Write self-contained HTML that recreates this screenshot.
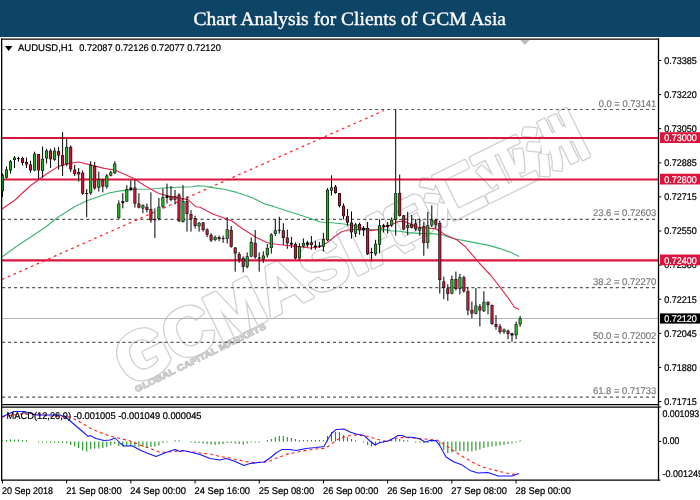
<!DOCTYPE html>
<html lang="en"><head><meta charset="utf-8"><title>Chart Analysis for Clients of GCM Asia</title>
<style>
html,body{margin:0;padding:0;background:#fff;}
body{width:700px;height:500px;overflow:hidden;}
svg{display:block;}
.ax{font-family:"Liberation Sans",sans-serif;font-size:9.7px;fill:#000;stroke:#000;stroke-width:.22px;text-rendering:geometricPrecision;}
.fib{font-family:"Liberation Sans",sans-serif;font-size:9.7px;fill:#777;stroke:#777;stroke-width:.15px;text-rendering:geometricPrecision;}
.ttl{font-family:"Liberation Serif",serif;font-size:19px;fill:#fff;stroke:#fff;stroke-width:.35px;text-rendering:geometricPrecision;}
.wm{font-family:"Liberation Sans","Noto Sans CJK SC",sans-serif;font-weight:bold;stroke-linejoin:round;}
.wo{fill:#cfcfcf;stroke:#cfcfcf;}
.wi{fill:#fff;stroke:#fff;}
</style></head><body>
<svg width="700" height="500" viewBox="0 0 700 500">
<rect x="0" y="0" width="700" height="500" fill="#fff"/>
<rect x="0" y="0" width="700" height="37" fill="#0e4465"/>
<text class="ttl" x="193.5" y="24.9" textLength="312.5" lengthAdjust="spacingAndGlyphs">Chart Analysis for Clients of GCM Asia</text>
<g transform="translate(129.5 387) rotate(-26.2)">
<text class="wm wo" x="0" y="0" font-size="68" stroke-width="4.6" textLength="318" lengthAdjust="spacingAndGlyphs">GCMASIA</text>
<text class="wm wo" x="346" y="-9.5" font-size="57" stroke-width="4.6" textLength="172" lengthAdjust="spacingAndGlyphs">汇亚洲</text>
<text class="wm wi" x="0" y="0" font-size="68" stroke-width="2.0" textLength="318" lengthAdjust="spacingAndGlyphs">GCMASIA</text>
<text class="wm wi" x="346" y="-9.5" font-size="57" stroke-width="2.0" textLength="172" lengthAdjust="spacingAndGlyphs">汇亚洲</text>
<rect x="303" y="-48" width="43" height="43" rx="9" fill="#fff" stroke="#cfcfcf" stroke-width="1.3"/>
<path d="M313 -39H337V-32H321V-29.5H335V-23H321V-20.5H337V-13.5H313Z" fill="#fff" stroke="#cfcfcf" stroke-width="1.2" stroke-linejoin="round"/>
<text class="wm" x="4" y="8" font-size="8.6" textLength="145" lengthAdjust="spacingAndGlyphs" style="fill:#f2f2f2;stroke:#c2c2c2;stroke-width:.9px">GLOBAL CAPITAL MARKETS</text>
</g>
<line x1="2" y1="109.5" x2="656" y2="109.5" stroke="#5a5a5a" stroke-width="1.2" stroke-dasharray="3.1 2.918"/>
<line x1="2" y1="219.3" x2="656" y2="219.3" stroke="#5a5a5a" stroke-width="1.2" stroke-dasharray="3.1 2.918"/>
<line x1="2" y1="287.7" x2="656" y2="287.7" stroke="#5a5a5a" stroke-width="1.2" stroke-dasharray="3.1 2.918"/>
<line x1="2" y1="342.3" x2="656" y2="342.3" stroke="#5a5a5a" stroke-width="1.2" stroke-dasharray="3.1 2.918"/>
<line x1="2" y1="397.2" x2="656" y2="397.2" stroke="#5a5a5a" stroke-width="1.2" stroke-dasharray="3.1 2.918"/>
<line x1="2" y1="318.5" x2="658" y2="318.5" stroke="#b4b4b4" stroke-width="1"/>
<line x1="2" y1="279.5" x2="384" y2="110.5" stroke="#ff2a2a" stroke-width="1.3" stroke-dasharray="2.7 3.6"/>
<polyline points="2.0,257.0 15.0,247.5 30.0,237.5 45.0,227.5 57.5,217.5 75.0,206.5 87.5,200.6 97.6,197.0 108.8,193.0 120.0,190.9 136.0,189.2 152.0,189.0 163.2,188.0 177.6,187.2 192.0,186.8 197.6,185.8 204.0,186.0 214.4,187.9 224.0,189.2 236.8,192.4 251.2,197.2 260.8,202.0 266.0,204.4 273.6,206.4 288.0,211.2 300.8,215.3 312.0,219.0 320.0,222.0 332.0,222.8 344.0,224.0 353.6,225.6 361.6,227.8 372.0,229.8 384.0,229.4 390.0,230.8 400.0,231.2 408.0,232.6 419.2,233.4 432.0,233.6 442.0,234.7 452.0,238.2 468.0,241.4 488.8,245.4 500.0,248.6 511.2,252.6 519.2,256.6" fill="none" stroke="#3cb371" stroke-width="1.1" stroke-linejoin="round"/>
<polyline points="2.0,209.0 15.0,200.0 30.0,186.0 38.4,180.0 45.0,175.0 58.4,166.4 70.4,163.2 78.4,162.0 89.6,164.6 104.0,168.4 114.4,170.0 125.0,174.5 134.4,178.8 144.0,185.2 158.4,193.2 169.6,196.4 177.6,197.6 188.0,199.6 196.0,206.8 200.0,207.2 212.8,214.0 224.0,218.0 232.0,221.0 243.2,229.2 256.0,237.2 265.6,242.0 270.4,243.5 282.4,245.0 296.0,246.4 310.4,248.0 320.0,246.7 328.0,242.0 334.4,236.8 341.6,231.8 348.0,230.0 364.0,229.0 372.0,230.6 380.0,229.0 384.0,227.0 392.0,224.6 398.4,221.4 404.8,221.4 411.2,224.6 416.0,227.0 424.0,227.8 435.0,228.6 442.0,232.6 445.6,235.0 456.8,239.8 464.8,246.2 474.4,257.4 479.2,263.0 490.4,275.0 500.0,287.1 508.0,297.6 514.4,307.2 519.2,309.6" fill="none" stroke="#e0284f" stroke-width="1.1" stroke-linejoin="round"/>
<line x1="2" y1="138" x2="659" y2="138" stroke="#dc143c" stroke-width="2.2"/>
<line x1="2" y1="179.5" x2="659" y2="179.5" stroke="#dc143c" stroke-width="2.2"/>
<line x1="2" y1="260.3" x2="659" y2="260.3" stroke="#dc143c" stroke-width="2.2"/>
<path d="M2.5 173.6V197.0M6.5 166.4V178.4M10.5 160.0V173.6M14.5 156.0V168.0M18.5 156.8V161.6M22.5 156.8V165.6M26.5 157.6V168.0M30.5 160.8V172.8M34.6 151.7V171.2M38.6 154.0V179.2M42.6 146.4V177.6M46.6 148.8V163.5M50.6 148.8V168.0M54.6 147.5V160.8M58.6 146.9V169.6M62.6 132.0V176.0M66.7 138.4V166.4M70.7 145.3V172.0M74.7 164.8V176.0M78.7 168.0V181.6M82.7 170.4V194.9M86.7 189.0V217.0M90.7 161.2V194.8M94.7 162.0V189.7M98.8 171.6V191.6M102.8 178.8V192.4M106.8 174.0V188.7M110.8 170.8V176.4M114.8 161.2V174.0M118.8 200.4V218.8M122.8 193.2V208.4M126.8 185.2V202.0M130.8 180.4V190.8M134.9 179.6V207.6M138.9 193.2V208.4M142.9 204.4V213.2M146.9 203.6V212.4M150.9 192.4V222.8M154.9 208.4V238.0M158.9 198.0V220.4M162.9 188.4V208.4M167.0 183.6V203.6M171.0 186.0V201.2M175.0 190.0V204.4M179.0 193.2V222.0M183.0 185.2V222.5M187.0 196.4V231.6M191.0 210.0V231.6M195.1 215.6V228.4M199.1 222.0V231.6M203.1 222.0V231.6M207.1 228.4V237.2M211.1 233.2V242.0M215.1 235.6V241.2M219.1 235.6V241.2M223.1 235.6V242.8M227.2 217.2V243.6M231.2 226.0V247.6M235.2 247.0V271.6M239.2 252.0V262.8M243.2 256.4V272.4M247.2 252.4V268.4M251.2 237.5V257.2M255.2 230.0V258.8M259.2 252.4V271.6M263.3 251.3V262.8M267.3 244.0V257.6M271.3 233.3V253.6M275.3 219.2V236.0M279.3 216.8V233.6M283.3 223.2V244.8M287.3 229.6V248.8M291.4 236.8V248.0M295.4 242.4V259.2M299.4 243.2V259.5M303.4 238.4V247.2M307.4 240.8V247.2M311.4 236.0V249.6M315.4 240.8V249.6M319.4 242.0V248.0M323.4 232.8V251.5M327.5 188.2V241.0M331.5 175.4V195.4M335.5 185.0V193.8M339.5 193.0V207.4M343.5 203.4V219.4M347.5 209.0V225.8M351.5 211.4V238.6M355.6 222.8V237.2M359.6 222.5V234.8M363.6 226.0V236.0M367.6 222.0V255.0M371.6 247.8V261.4M375.6 239.8V255.8M379.6 219.3V253.4M383.6 223.8V232.4M387.7 222.0V233.6M391.7 217.4V227.0M395.7 109.6V235.8M399.7 174.6V216.6M403.7 215.0V230.2M407.7 211.8V235.0M411.7 215.0V228.6M415.7 219.0V231.0M419.8 219.0V235.8M423.8 222.2V255.8M427.8 211.8V248.6M431.8 205.4V227.0M435.8 219.0V228.6M439.8 220.6V293.6M443.8 276.7V299.2M447.8 284.3V300.8M451.9 275.5V294.3M455.9 271.6V290.4M459.9 273.9V294.4M463.9 275.7V292.7M467.9 287.2V315.2M471.9 301.6V318.4M475.9 288.0V314.4M479.9 304.0V326.4M483.9 291.2V312.0M488.0 301.3V314.4M492.0 304.5V324.8M496.0 315.2V329.6M500.0 324.0V333.9M504.0 328.5V333.9M508.0 329.6V339.2M512.0 332.8V341.6M516.1 321.6V339.2M520.1 316.0V326.9" stroke="#000" stroke-width="1" fill="none"/>
<g fill="#000"><rect x="1.0" y="175.2" width="3" height="16.0"/><rect x="5.0" y="169.6" width="3" height="8.0"/><rect x="9.0" y="161.3" width="3" height="9.1"/><rect x="13.0" y="157.6" width="3" height="2.4"/><rect x="33.1" y="153.6" width="3" height="16.8"/><rect x="41.1" y="158.9" width="3" height="12.0"/><rect x="45.1" y="150.7" width="3" height="7.7"/><rect x="53.1" y="150.7" width="3" height="9.0"/><rect x="65.2" y="146.9" width="3" height="17.1"/><rect x="89.2" y="165.2" width="3" height="28.0"/><rect x="97.3" y="179.6" width="3" height="8.0"/><rect x="105.3" y="175.6" width="3" height="11.2"/><rect x="109.3" y="172.4" width="3" height="3.2"/><rect x="113.3" y="163.6" width="3" height="9.6"/><rect x="117.3" y="203.6" width="3" height="14.4"/><rect x="125.3" y="189.2" width="3" height="12.3"/><rect x="141.4" y="205.2" width="3" height="3.2"/><rect x="157.4" y="206.8" width="3" height="12.0"/><rect x="161.4" y="197.2" width="3" height="9.6"/><rect x="181.5" y="201.2" width="3" height="20.8"/><rect x="197.6" y="222.8" width="3" height="3.5"/><rect x="213.6" y="236.9" width="3" height="3.1"/><rect x="225.7" y="229.5" width="3" height="9.3"/><rect x="245.7" y="256.4" width="3" height="10.4"/><rect x="249.7" y="242.0" width="3" height="14.4"/><rect x="261.8" y="255.6" width="3" height="3.7"/><rect x="265.8" y="248.0" width="3" height="7.2"/><rect x="269.8" y="234.4" width="3" height="13.6"/><rect x="273.8" y="230.4" width="3" height="3.5"/><rect x="297.9" y="246.4" width="3" height="12.0"/><rect x="301.9" y="242.9" width="3" height="3.5"/><rect x="321.9" y="239.2" width="3" height="7.5"/><rect x="326.0" y="189.8" width="3" height="50.4"/><rect x="330.0" y="187.4" width="3" height="3.2"/><rect x="354.1" y="224.4" width="3" height="9.2"/><rect x="374.1" y="243.8" width="3" height="10.4"/><rect x="378.1" y="225.4" width="3" height="19.2"/><rect x="390.2" y="219.8" width="3" height="5.6"/><rect x="394.2" y="193.2" width="3" height="26.6"/><rect x="406.2" y="225.0" width="3" height="2.8"/><rect x="418.2" y="227.8" width="3" height="2.7"/><rect x="426.3" y="225.4" width="3" height="17.6"/><rect x="430.3" y="219.8" width="3" height="5.6"/><rect x="450.4" y="279.1" width="3" height="14.4"/><rect x="458.4" y="277.3" width="3" height="11.5"/><rect x="474.4" y="305.6" width="3" height="8.0"/><rect x="482.4" y="301.9" width="3" height="9.3"/><rect x="502.5" y="329.6" width="3" height="2.4"/><rect x="514.6" y="324.3" width="3" height="10.9"/><rect x="518.6" y="318.4" width="3" height="5.9"/><rect x="21.0" y="158.0" width="3" height="4.9"/><rect x="25.0" y="162.0" width="3" height="2.5"/><rect x="29.0" y="164.5" width="3" height="5.9"/><rect x="37.1" y="154.0" width="3" height="16.4"/><rect x="49.1" y="150.7" width="3" height="8.5"/><rect x="57.1" y="151.2" width="3" height="4.3"/><rect x="61.1" y="155.2" width="3" height="10.4"/><rect x="69.2" y="146.9" width="3" height="22.4"/><rect x="73.2" y="169.6" width="3" height="4.4"/><rect x="77.2" y="172.0" width="3" height="2.4"/><rect x="81.2" y="172.8" width="3" height="20.8"/><rect x="93.2" y="166.0" width="3" height="22.4"/><rect x="101.3" y="179.6" width="3" height="6.9"/><rect x="133.4" y="187.6" width="3" height="16.0"/><rect x="137.4" y="203.6" width="3" height="4.0"/><rect x="145.4" y="206.8" width="3" height="3.2"/><rect x="149.4" y="209.2" width="3" height="11.2"/><rect x="169.5" y="196.4" width="3" height="3.6"/><rect x="173.5" y="196.4" width="3" height="3.2"/><rect x="177.5" y="194.8" width="3" height="26.4"/><rect x="185.5" y="201.2" width="3" height="12.8"/><rect x="189.5" y="214.0" width="3" height="4.8"/><rect x="193.6" y="218.0" width="3" height="8.0"/><rect x="201.6" y="222.5" width="3" height="7.5"/><rect x="205.6" y="229.5" width="3" height="5.3"/><rect x="209.6" y="234.8" width="3" height="5.6"/><rect x="217.6" y="237.2" width="3" height="1.9"/><rect x="229.7" y="230.0" width="3" height="16.8"/><rect x="233.7" y="247.6" width="3" height="5.9"/><rect x="237.7" y="254.0" width="3" height="5.6"/><rect x="241.7" y="258.0" width="3" height="8.8"/><rect x="253.7" y="242.8" width="3" height="14.4"/><rect x="281.8" y="230.4" width="3" height="7.6"/><rect x="285.8" y="237.6" width="3" height="5.6"/><rect x="293.9" y="244.0" width="3" height="14.4"/><rect x="309.9" y="242.4" width="3" height="2.7"/><rect x="334.0" y="186.6" width="3" height="6.4"/><rect x="338.0" y="193.0" width="3" height="12.8"/><rect x="342.0" y="205.8" width="3" height="10.4"/><rect x="346.0" y="216.2" width="3" height="6.4"/><rect x="350.0" y="222.6" width="3" height="9.6"/><rect x="358.1" y="224.1" width="3" height="6.3"/><rect x="366.1" y="228.0" width="3" height="26.2"/><rect x="398.2" y="192.9" width="3" height="22.9"/><rect x="402.2" y="215.5" width="3" height="13.9"/><rect x="410.2" y="223.8" width="3" height="4.0"/><rect x="414.2" y="223.5" width="3" height="5.9"/><rect x="422.3" y="226.2" width="3" height="16.8"/><rect x="434.3" y="219.8" width="3" height="4.8"/><rect x="438.3" y="223.0" width="3" height="57.0"/><rect x="442.3" y="281.5" width="3" height="6.5"/><rect x="446.3" y="288.3" width="3" height="5.6"/><rect x="454.4" y="279.1" width="3" height="10.0"/><rect x="462.4" y="277.3" width="3" height="14.0"/><rect x="466.4" y="291.2" width="3" height="19.2"/><rect x="470.4" y="309.9" width="3" height="3.7"/><rect x="478.4" y="306.4" width="3" height="4.0"/><rect x="486.5" y="301.9" width="3" height="3.2"/><rect x="490.5" y="305.1" width="3" height="18.9"/><rect x="494.5" y="324.0" width="3" height="2.9"/><rect x="498.5" y="326.4" width="3" height="5.6"/><rect x="506.5" y="330.7" width="3" height="3.2"/><rect x="17.0" y="158.2" width="3" height="0.9"/><rect x="85.2" y="193.0" width="3" height="0.9"/><rect x="121.3" y="201.2" width="3" height="1.9"/><rect x="129.3" y="187.6" width="3" height="2.4"/><rect x="153.4" y="219.2" width="3" height="0.9"/><rect x="165.5" y="195.6" width="3" height="2.4"/><rect x="221.6" y="238.2" width="3" height="0.9"/><rect x="257.8" y="257.5" width="3" height="1.0"/><rect x="277.8" y="229.8" width="3" height="0.9"/><rect x="289.9" y="242.9" width="3" height="1.6"/><rect x="305.9" y="242.4" width="3" height="2.4"/><rect x="313.9" y="245.6" width="3" height="1.6"/><rect x="317.9" y="245.6" width="3" height="1.1"/><rect x="362.1" y="228.0" width="3" height="2.5"/><rect x="370.1" y="252.0" width="3" height="1.0"/><rect x="382.1" y="225.2" width="3" height="1.6"/><rect x="386.2" y="225.0" width="3" height="1.7"/><rect x="510.5" y="333.3" width="3" height="2.2"/></g>
<g fill="#25b025"><rect x="1.6" y="175.7" width="1.8" height="15.0"/><rect x="5.6" y="170.1" width="1.8" height="7.0"/><rect x="9.6" y="161.8" width="1.8" height="8.1"/><rect x="13.6" y="158.1" width="1.8" height="1.4"/><rect x="33.7" y="154.1" width="1.8" height="15.8"/><rect x="41.7" y="159.4" width="1.8" height="11.0"/><rect x="45.7" y="151.2" width="1.8" height="6.7"/><rect x="53.7" y="151.2" width="1.8" height="8.0"/><rect x="65.8" y="147.4" width="1.8" height="16.1"/><rect x="89.8" y="165.7" width="1.8" height="27.0"/><rect x="97.9" y="180.1" width="1.8" height="7.0"/><rect x="105.9" y="176.1" width="1.8" height="10.2"/><rect x="109.9" y="172.9" width="1.8" height="2.2"/><rect x="113.9" y="164.1" width="1.8" height="8.6"/><rect x="117.9" y="204.1" width="1.8" height="13.4"/><rect x="125.9" y="189.7" width="1.8" height="11.3"/><rect x="142.0" y="205.7" width="1.8" height="2.2"/><rect x="158.0" y="207.3" width="1.8" height="11.0"/><rect x="162.0" y="197.7" width="1.8" height="8.6"/><rect x="182.1" y="201.7" width="1.8" height="19.8"/><rect x="198.2" y="223.3" width="1.8" height="2.5"/><rect x="214.2" y="237.4" width="1.8" height="2.1"/><rect x="226.2" y="230.0" width="1.8" height="8.3"/><rect x="246.3" y="256.9" width="1.8" height="9.4"/><rect x="250.3" y="242.5" width="1.8" height="13.4"/><rect x="262.4" y="256.1" width="1.8" height="2.7"/><rect x="266.4" y="248.5" width="1.8" height="6.2"/><rect x="270.4" y="234.9" width="1.8" height="12.6"/><rect x="274.4" y="230.9" width="1.8" height="2.5"/><rect x="298.5" y="246.9" width="1.8" height="11.0"/><rect x="302.5" y="243.4" width="1.8" height="2.5"/><rect x="322.6" y="239.7" width="1.8" height="6.5"/><rect x="326.6" y="190.3" width="1.8" height="49.4"/><rect x="330.6" y="187.9" width="1.8" height="2.2"/><rect x="354.7" y="224.9" width="1.8" height="8.2"/><rect x="374.7" y="244.3" width="1.8" height="9.4"/><rect x="378.7" y="225.9" width="1.8" height="18.2"/><rect x="390.8" y="220.3" width="1.8" height="4.6"/><rect x="394.8" y="193.7" width="1.8" height="25.6"/><rect x="406.8" y="225.5" width="1.8" height="1.8"/><rect x="418.9" y="228.3" width="1.8" height="1.7"/><rect x="426.9" y="225.9" width="1.8" height="16.6"/><rect x="430.9" y="220.3" width="1.8" height="4.6"/><rect x="451.0" y="279.6" width="1.8" height="13.4"/><rect x="459.0" y="277.8" width="1.8" height="10.5"/><rect x="475.0" y="306.1" width="1.8" height="7.0"/><rect x="483.1" y="302.4" width="1.8" height="8.3"/><rect x="503.1" y="330.1" width="1.8" height="1.4"/><rect x="515.2" y="324.8" width="1.8" height="9.9"/><rect x="519.2" y="318.9" width="1.8" height="4.9"/></g>
<g fill="#c41838"><rect x="21.6" y="158.5" width="1.8" height="3.9"/><rect x="25.6" y="162.5" width="1.8" height="1.5"/><rect x="29.6" y="165.0" width="1.8" height="4.9"/><rect x="37.7" y="154.5" width="1.8" height="15.4"/><rect x="49.7" y="151.2" width="1.8" height="7.5"/><rect x="57.7" y="151.7" width="1.8" height="3.3"/><rect x="61.7" y="155.7" width="1.8" height="9.4"/><rect x="69.8" y="147.4" width="1.8" height="21.4"/><rect x="73.8" y="170.1" width="1.8" height="3.4"/><rect x="77.8" y="172.5" width="1.8" height="1.4"/><rect x="81.8" y="173.3" width="1.8" height="19.8"/><rect x="93.8" y="166.5" width="1.8" height="21.4"/><rect x="101.9" y="180.1" width="1.8" height="5.9"/><rect x="134.0" y="188.1" width="1.8" height="15.0"/><rect x="138.0" y="204.1" width="1.8" height="3.0"/><rect x="146.0" y="207.3" width="1.8" height="2.2"/><rect x="150.0" y="209.7" width="1.8" height="10.2"/><rect x="170.1" y="196.9" width="1.8" height="2.6"/><rect x="174.1" y="196.9" width="1.8" height="2.2"/><rect x="178.1" y="195.3" width="1.8" height="25.4"/><rect x="186.1" y="201.7" width="1.8" height="11.8"/><rect x="190.1" y="214.5" width="1.8" height="3.8"/><rect x="194.2" y="218.5" width="1.8" height="7.0"/><rect x="202.2" y="223.0" width="1.8" height="6.5"/><rect x="206.2" y="230.0" width="1.8" height="4.3"/><rect x="210.2" y="235.3" width="1.8" height="4.6"/><rect x="218.2" y="237.7" width="1.8" height="0.9"/><rect x="230.3" y="230.5" width="1.8" height="15.8"/><rect x="234.3" y="248.1" width="1.8" height="4.9"/><rect x="238.3" y="254.5" width="1.8" height="4.6"/><rect x="242.3" y="258.5" width="1.8" height="7.8"/><rect x="254.3" y="243.3" width="1.8" height="13.4"/><rect x="282.4" y="230.9" width="1.8" height="6.6"/><rect x="286.4" y="238.1" width="1.8" height="4.6"/><rect x="294.5" y="244.5" width="1.8" height="13.4"/><rect x="310.5" y="242.9" width="1.8" height="1.7"/><rect x="334.6" y="187.1" width="1.8" height="5.4"/><rect x="338.6" y="193.5" width="1.8" height="11.8"/><rect x="342.6" y="206.3" width="1.8" height="9.4"/><rect x="346.6" y="216.7" width="1.8" height="5.4"/><rect x="350.6" y="223.1" width="1.8" height="8.6"/><rect x="358.7" y="224.6" width="1.8" height="5.3"/><rect x="366.7" y="228.5" width="1.8" height="25.2"/><rect x="398.8" y="193.4" width="1.8" height="21.9"/><rect x="402.8" y="216.0" width="1.8" height="12.9"/><rect x="410.8" y="224.3" width="1.8" height="3.0"/><rect x="414.8" y="224.0" width="1.8" height="4.9"/><rect x="422.9" y="226.7" width="1.8" height="15.8"/><rect x="434.9" y="220.3" width="1.8" height="3.8"/><rect x="438.9" y="223.5" width="1.8" height="56.0"/><rect x="442.9" y="282.0" width="1.8" height="5.5"/><rect x="446.9" y="288.8" width="1.8" height="4.6"/><rect x="455.0" y="279.6" width="1.8" height="9.0"/><rect x="463.0" y="277.8" width="1.8" height="13.0"/><rect x="467.0" y="291.7" width="1.8" height="18.2"/><rect x="471.0" y="310.4" width="1.8" height="2.7"/><rect x="479.0" y="306.9" width="1.8" height="3.0"/><rect x="487.1" y="302.4" width="1.8" height="2.2"/><rect x="491.1" y="305.6" width="1.8" height="17.9"/><rect x="495.1" y="324.5" width="1.8" height="1.9"/><rect x="499.1" y="326.9" width="1.8" height="4.6"/><rect x="507.1" y="331.2" width="1.8" height="2.2"/></g>
<path d="M1 39.2H659.1M1 404.5H659.1M1 407H659.1M1 480.2H660.3" stroke="#000" stroke-width="1.25" fill="none"/>
<path d="M1.65 38.6V480.8M658.5 38.6V480.8" stroke="#000" stroke-width="1.3" fill="none"/>
<path d="M2.5 441.4V440.2M6.5 441.4V440.0M10.5 441.4V439.4M14.5 441.4V439.4M18.5 441.4V439.4M22.5 441.4V440.0M26.5 441.4V440.2M38.6 441.4V442.6M42.6 441.4V442.6M46.6 441.4V442.6M50.6 441.4V442.6M54.6 441.4V442.8M58.6 441.4V442.8M62.6 441.4V443.0M66.7 441.4V443.2M70.7 441.4V445.0M74.7 441.4V446.4M78.7 441.4V448.0M82.7 441.4V450.4M86.7 441.4V451.4M90.7 441.4V449.0M94.7 441.4V448.6M98.8 441.4V448.6M102.8 441.4V448.0M106.8 441.4V447.0M110.8 441.4V445.6M114.8 441.4V444.0M118.8 441.4V446.0M122.8 441.4V446.4M126.8 441.4V446.0M130.8 441.4V445.6M134.9 441.4V446.4M138.9 441.4V447.0M142.9 441.4V447.0M146.9 441.4V447.4M150.9 441.4V447.0M154.9 441.4V446.4M158.9 441.4V445.6M162.9 441.4V443.0M167.0 441.4V442.6M175.0 441.4V440.2M179.0 441.4V440.2M191.0 441.4V442.6M195.1 441.4V443.0M199.1 441.4V443.0M203.1 441.4V443.6M207.1 441.4V444.0M211.1 441.4V444.4M215.1 441.4V445.0M219.1 441.4V444.4M223.1 441.4V444.0M227.2 441.4V443.0M231.2 441.4V443.0M235.2 441.4V443.6M239.2 441.4V444.0M243.2 441.4V444.4M247.2 441.4V443.6M251.2 441.4V442.6M255.2 441.4V442.6M259.2 441.4V442.6M267.3 441.4V440.0M271.3 441.4V439.0M275.3 441.4V437.0M279.3 441.4V436.0M283.3 441.4V436.0M287.3 441.4V437.0M291.4 441.4V438.0M295.4 441.4V439.0M299.4 441.4V440.0M303.4 441.4V440.0M307.4 441.4V440.0M311.4 441.4V440.0M315.4 441.4V440.0M319.4 441.4V440.0M323.4 441.4V440.0M327.5 441.4V436.0M331.5 441.4V432.0M335.5 441.4V432.0M339.5 441.4V432.0M343.5 441.4V435.0M347.5 441.4V437.0M351.5 441.4V439.0M355.6 441.4V440.2M363.6 441.4V442.6M367.6 441.4V445.0M371.6 441.4V446.4M375.6 441.4V445.6M379.6 441.4V443.6M383.6 441.4V442.6M387.7 441.4V440.2M391.7 441.4V439.0M395.7 441.4V439.0M399.7 441.4V439.0M403.7 441.4V440.0M407.7 441.4V440.2M415.7 441.4V442.6M419.8 441.4V442.6M423.8 441.4V443.0M427.8 441.4V443.0M431.8 441.4V440.2M435.8 441.4V440.2M439.8 441.4V445.6M443.8 441.4V450.0M447.8 441.4V453.0M451.9 441.4V452.4M455.9 441.4V451.6M459.9 441.4V451.0M463.9 441.4V451.0M467.9 441.4V451.4M471.9 441.4V451.4M475.9 441.4V450.4M479.9 441.4V449.4M483.9 441.4V448.0M488.0 441.4V447.0M492.0 441.4V446.4M496.0 441.4V446.0M500.0 441.4V445.6M504.0 441.4V445.0M508.0 441.4V444.0M512.0 441.4V443.4M516.1 441.4V442.6M520.1 441.4V440.2" stroke="#1a931a" stroke-width="1.1" fill="none"/>
<polyline points="2.0,417.0 10.0,415.5 20.0,414.0 36.0,414.5 50.0,416.0 70.0,417.0 80.0,422.0 90.0,428.0 100.0,432.4 110.0,436.0 120.0,438.4 130.0,441.0 140.0,445.0 150.0,448.4 160.0,452.4 170.0,451.6 180.0,451.0 190.0,451.6 200.0,453.0 210.0,454.0 220.0,456.4 230.0,458.0 238.0,460.0 246.0,461.6 254.0,462.6 262.0,462.2 268.0,462.0 274.0,459.0 280.0,457.0 286.0,454.4 296.0,452.4 306.0,450.4 316.0,449.0 324.0,448.4 329.0,446.0 334.0,442.0 340.0,438.0 346.0,436.4 354.0,435.0 364.0,435.6 370.0,437.0 376.0,439.0 384.0,441.0 392.0,440.0 398.0,437.6 410.0,437.6 420.0,438.6 430.0,439.4 437.0,440.0 442.0,443.0 448.0,447.0 454.0,451.0 460.0,455.0 466.0,458.4 472.0,462.0 478.0,465.0 486.0,468.0 494.0,470.0 502.0,472.0 510.0,474.0 518.0,474.4" fill="none" stroke="#ff1e1e" stroke-width="1.1" stroke-dasharray="3 3"/>
<polyline points="2.0,417.0 8.0,414.0 14.0,411.4 24.0,411.4 30.0,413.0 36.0,415.0 60.0,415.0 64.0,416.5 68.0,419.0 76.0,426.0 82.0,431.0 88.0,436.4 90.0,435.6 96.0,438.4 104.0,440.6 110.0,440.0 115.0,438.0 120.0,443.0 124.0,446.0 132.0,445.8 142.0,451.0 156.0,456.4 166.0,452.4 175.0,449.6 180.0,451.6 183.0,450.6 190.0,452.0 200.0,454.4 210.0,458.4 220.0,460.0 226.0,458.6 234.0,461.0 244.0,465.4 250.0,463.6 258.0,462.6 264.0,462.0 270.0,458.0 276.0,453.0 282.0,449.4 290.0,449.6 296.0,450.4 306.0,448.6 316.0,447.6 324.0,446.4 328.0,439.0 332.0,433.0 336.0,429.6 344.0,429.0 350.0,432.0 356.0,434.0 364.0,435.6 370.0,441.0 375.0,445.0 380.0,442.4 388.0,441.0 392.0,439.0 394.0,438.0 398.0,435.4 402.0,435.6 406.0,437.0 414.0,437.6 420.0,439.0 425.0,442.0 430.0,440.6 436.0,440.6 440.0,446.0 446.0,457.0 454.0,462.0 461.0,464.4 470.0,470.4 478.0,473.0 488.0,472.4 498.0,476.0 512.0,476.0 519.0,473.4" fill="none" stroke="#1414ff" stroke-width="1.05" stroke-linejoin="round"/>
<path d="M520.3 40H529.5L524.9 45Z" fill="#bcbcbc"/>
<path d="M5 46H12.4L8.7 51Z" fill="#000"/>
<text class="ax" x="18" y="51.3" textLength="55" lengthAdjust="spacingAndGlyphs">AUDUSD,H1</text>
<text class="ax" x="79.2" y="51.3" textLength="141.6" lengthAdjust="spacingAndGlyphs">0.72087 0.72126 0.72077 0.72120</text>
<text class="ax" x="6.5" y="419.3" textLength="195" lengthAdjust="spacingAndGlyphs">MACD(12,26,9) -0.001005 -0.001049 0.000045</text>
<line x1="659" y1="60.5" x2="661.3" y2="60.5" stroke="#000" stroke-width="1"/>
<text class="ax" x="664.3" y="63.8" textLength="32.6" lengthAdjust="spacingAndGlyphs">0.73385</text>
<line x1="659" y1="94.6" x2="661.3" y2="94.6" stroke="#000" stroke-width="1"/>
<text class="ax" x="664.3" y="97.9" textLength="32.6" lengthAdjust="spacingAndGlyphs">0.73220</text>
<line x1="659" y1="128.7" x2="661.3" y2="128.7" stroke="#000" stroke-width="1"/>
<text class="ax" x="664.3" y="132.0" textLength="32.6" lengthAdjust="spacingAndGlyphs">0.73050</text>
<line x1="659" y1="162.8" x2="661.3" y2="162.8" stroke="#000" stroke-width="1"/>
<text class="ax" x="664.3" y="166.1" textLength="32.6" lengthAdjust="spacingAndGlyphs">0.72885</text>
<line x1="659" y1="196.9" x2="661.3" y2="196.9" stroke="#000" stroke-width="1"/>
<text class="ax" x="664.3" y="200.2" textLength="32.6" lengthAdjust="spacingAndGlyphs">0.72715</text>
<line x1="659" y1="231.0" x2="661.3" y2="231.0" stroke="#000" stroke-width="1"/>
<text class="ax" x="664.3" y="234.3" textLength="32.6" lengthAdjust="spacingAndGlyphs">0.72550</text>
<line x1="659" y1="265.1" x2="661.3" y2="265.1" stroke="#000" stroke-width="1"/>
<text class="ax" x="664.3" y="268.4" textLength="32.6" lengthAdjust="spacingAndGlyphs">0.72380</text>
<line x1="659" y1="299.2" x2="661.3" y2="299.2" stroke="#000" stroke-width="1"/>
<text class="ax" x="664.3" y="302.5" textLength="32.6" lengthAdjust="spacingAndGlyphs">0.72215</text>
<line x1="659" y1="333.3" x2="661.3" y2="333.3" stroke="#000" stroke-width="1"/>
<text class="ax" x="664.3" y="336.6" textLength="32.6" lengthAdjust="spacingAndGlyphs">0.72045</text>
<line x1="659" y1="367.4" x2="661.3" y2="367.4" stroke="#000" stroke-width="1"/>
<text class="ax" x="664.3" y="370.7" textLength="32.6" lengthAdjust="spacingAndGlyphs">0.71880</text>
<line x1="659" y1="401.5" x2="661.3" y2="401.5" stroke="#000" stroke-width="1"/>
<text class="ax" x="664.3" y="404.8" textLength="32.6" lengthAdjust="spacingAndGlyphs">0.71715</text>
<path d="M659 407H661.2M659 441.4H661.2" stroke="#000" stroke-width="1" fill="none"/>
<text class="ax" x="662.4" y="416.9" textLength="36.8" lengthAdjust="spacingAndGlyphs">0.001093</text>
<text class="ax" x="662.4" y="444.4" textLength="17" lengthAdjust="spacingAndGlyphs">0.00</text>
<text class="ax" x="662.4" y="476.5" textLength="40.5" lengthAdjust="spacingAndGlyphs">-0.001249</text>
<rect x="660" y="132.2" width="40" height="10.8" fill="#dc143c"/>
<text class="ax" x="664.3" y="141.2" textLength="32.6" lengthAdjust="spacingAndGlyphs" style="fill:#fff;stroke:#fff">0.73000</text>
<rect x="660" y="173.7" width="40" height="10.8" fill="#dc143c"/>
<text class="ax" x="664.3" y="182.7" textLength="32.6" lengthAdjust="spacingAndGlyphs" style="fill:#fff;stroke:#fff">0.72800</text>
<rect x="660" y="254.5" width="40" height="10.8" fill="#dc143c"/>
<text class="ax" x="664.3" y="263.5" textLength="32.6" lengthAdjust="spacingAndGlyphs" style="fill:#fff;stroke:#fff">0.72400</text>
<rect x="660" y="313.4" width="40" height="10.2" fill="#000"/>
<text class="ax" x="664.3" y="322" textLength="32.6" lengthAdjust="spacingAndGlyphs" style="fill:#fff;stroke:#fff">0.72120</text>
<text class="fib" x="598.7" y="106.6" textLength="57.6" lengthAdjust="spacingAndGlyphs">0.0 = 0.73141</text>
<text class="fib" x="592.9" y="216.4" textLength="63.4" lengthAdjust="spacingAndGlyphs">23.6 = 0.72603</text>
<text class="fib" x="592.9" y="284.8" textLength="63.4" lengthAdjust="spacingAndGlyphs">38.2 = 0.72270</text>
<text class="fib" x="592.9" y="339.4" textLength="63.4" lengthAdjust="spacingAndGlyphs">50.0 = 0.72002</text>
<text class="fib" x="592.9" y="394.3" textLength="63.4" lengthAdjust="spacingAndGlyphs">61.8 = 0.71733</text>
<line x1="2.45" y1="480" x2="2.45" y2="483.5" stroke="#000" stroke-width="1"/>
<text class="ax" x="1.9500000000000002" y="494" textLength="51" lengthAdjust="spacingAndGlyphs">20 Sep 2018</text>
<line x1="66.65" y1="480" x2="66.65" y2="483.5" stroke="#000" stroke-width="1"/>
<text class="ax" x="66.15" y="494" textLength="55.5" lengthAdjust="spacingAndGlyphs">21 Sep 08:00</text>
<line x1="130.85" y1="480" x2="130.85" y2="483.5" stroke="#000" stroke-width="1"/>
<text class="ax" x="130.35" y="494" textLength="55.5" lengthAdjust="spacingAndGlyphs">24 Sep 00:00</text>
<line x1="195.05" y1="480" x2="195.05" y2="483.5" stroke="#000" stroke-width="1"/>
<text class="ax" x="194.55" y="494" textLength="55.5" lengthAdjust="spacingAndGlyphs">24 Sep 16:00</text>
<line x1="259.25" y1="480" x2="259.25" y2="483.5" stroke="#000" stroke-width="1"/>
<text class="ax" x="258.75" y="494" textLength="55.5" lengthAdjust="spacingAndGlyphs">25 Sep 08:00</text>
<line x1="323.45" y1="480" x2="323.45" y2="483.5" stroke="#000" stroke-width="1"/>
<text class="ax" x="322.95" y="494" textLength="55.5" lengthAdjust="spacingAndGlyphs">26 Sep 00:00</text>
<line x1="387.65000000000003" y1="480" x2="387.65000000000003" y2="483.5" stroke="#000" stroke-width="1"/>
<text class="ax" x="387.15000000000003" y="494" textLength="55.5" lengthAdjust="spacingAndGlyphs">26 Sep 16:00</text>
<line x1="451.85" y1="480" x2="451.85" y2="483.5" stroke="#000" stroke-width="1"/>
<text class="ax" x="451.35" y="494" textLength="55.5" lengthAdjust="spacingAndGlyphs">27 Sep 08:00</text>
<line x1="516.0500000000001" y1="480" x2="516.0500000000001" y2="483.5" stroke="#000" stroke-width="1"/>
<text class="ax" x="515.5500000000001" y="494" textLength="55.5" lengthAdjust="spacingAndGlyphs">28 Sep 00:00</text>
</svg>
</body></html>
